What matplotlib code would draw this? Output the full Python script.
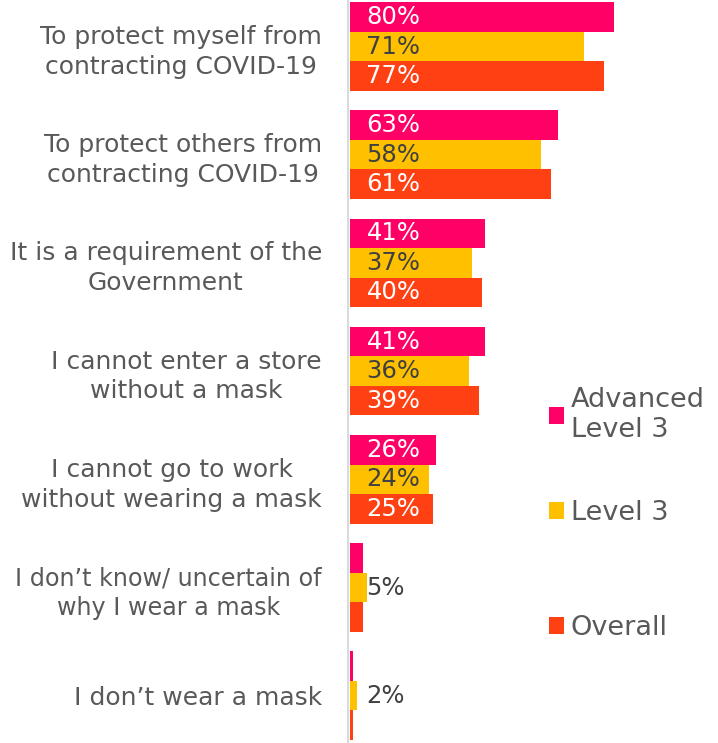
import matplotlib.pyplot as plt
import numpy as np

# reasons for wearing a mask (%)
categories = [
    "To protect myself from\ncontracting COVID-19",
    "To protect others from\ncontracting COVID-19",
    "It is a requirement of the\nGovernment",
    "I cannot enter a store\nwithout a mask",
    "I cannot go to work\nwithout wearing a mask",
    "I don\u2019t know/ uncertain of\nwhy I wear a mask",
    "I don\u2019t wear a mask",
]
advanced_l3 = [80, 63, 41, 41, 26, 4, 1]
level3 = [71, 58, 37, 36, 24, 5, 2]
overall = [77, 61, 40, 39, 25, 4, 1]

series_names = ["Advanced\nLevel 3", "Level 3", "Overall"]
series_colors = ["#FF0066", "#FFC000", "#FF4013"]
label_colors = ["white", "#404040", "white"]
min_label = [10, 2, 10]   # smaller bars carry no label except Level 3

plt.rcParams['font.family'] = ['DejaVu Sans']
text_grey = "#595959"

fig = plt.figure(figsize=(7.18, 7.43), dpi=100)
ax = fig.add_axes([350 / 718, 0, 368 / 718, 1])

# spine first: moving it resets the tick labels
for s in ['top', 'right', 'bottom']:
    ax.spines[s].set_visible(False)
ax.spines['left'].set_position(('outward', 1.2))
ax.spines['left'].set_color('#D9D9D9')
ax.spines['left'].set_linewidth(1.4)

y = np.arange(len(categories))
h = 0.2726
bars = []
for k, vals in enumerate([advanced_l3, level3, overall]):
    pos = y + (k - 1) * h
    b = ax.barh(pos, vals, height=h, color=series_colors[k], label=series_names[k])
    bars.append(b)
    for p, v in zip(pos, vals):
        if v >= min_label[k]:
            ax.text(5, p, f"{v}%", va='center', ha='left', fontsize=17.5,
                    color=label_colors[k])

ax.set_xlim(0, 368 / 3.3)
ax.set_ylim(6.437, -0.43)
ax.set_yticks(y)
ax.set_yticklabels(categories, fontsize=18, color=text_grey, linespacing=1.3)
for lab in ax.get_yticklabels():
    lab.set_multialignment('center')
ax.get_yticklabels()[5].set_fontsize(17.2)   # widest label, keep it inside the figure
ax.tick_params(axis='y', length=0, pad=19)
ax.set_xticks([])

# legend entries, placed one by one like the original
legend_y = [415, 513, 628]
for k in range(3):
    leg = fig.legend(handles=[bars[k]], labels=[series_names[k]], loc='center left',
                     bbox_to_anchor=(549 / 718, 1 - legend_y[k] / 743),
                     frameon=False, fontsize=19.5, handlelength=0.55, handleheight=0.55,
                     handletextpad=0.25, borderpad=0, borderaxespad=0)
    for t in leg.get_texts():
        t.set_color(text_grey)
        t.set_linespacing(1.2)

fig.savefig('out.png', dpi=100)
